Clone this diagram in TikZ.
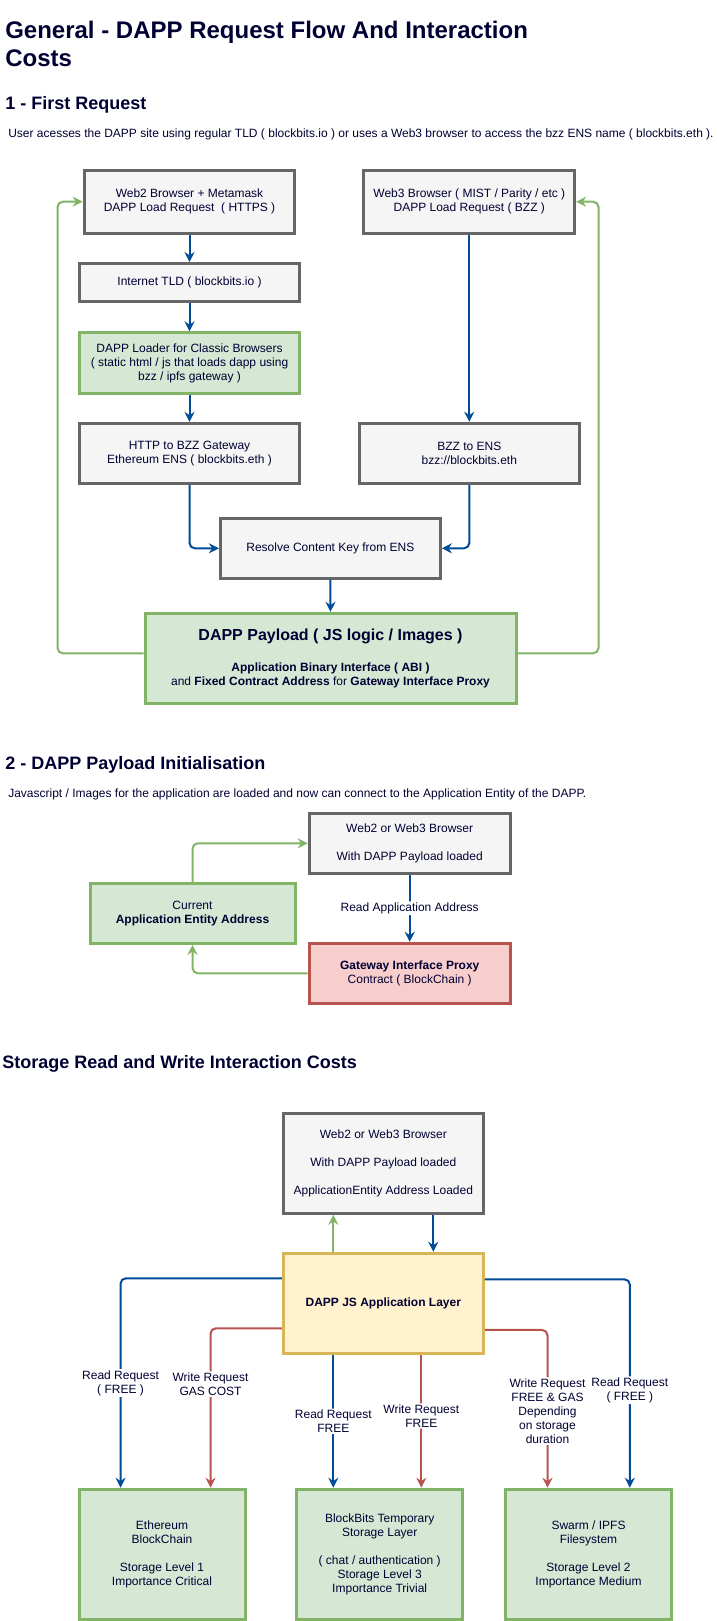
\documentclass[tikz,border=0pt]{standalone}
\usepackage{fontspec}
\setmainfont{Liberation Sans}
\usetikzlibrary{arrows.meta}

\definecolor{txtnavy}{HTML}{000033}
\definecolor{grayfill}{HTML}{F5F5F5}
\definecolor{graydraw}{HTML}{666666}
\definecolor{greenfill}{HTML}{D5E8D4}
\definecolor{greendraw}{HTML}{82B366}
\definecolor{redfill}{HTML}{F8CECC}
\definecolor{reddraw}{HTML}{B85450}
\definecolor{yellowfill}{HTML}{FFF2CC}
\definecolor{yellowdraw}{HTML}{D6B656}
\definecolor{bluearrow}{HTML}{004C99}

\tikzset{
  box/.style={draw, line width=2.25pt, align=center, text=txtnavy, inner sep=0pt, font=\fontsize{9}{10.5}\selectfont},
  graybox/.style={box, fill=grayfill, draw=graydraw},
  greenbox/.style={box, fill=greenfill, draw=greendraw},
  redbox/.style={box, fill=redfill, draw=reddraw},
  yellowbox/.style={box, fill=yellowfill, draw=yellowdraw},
  conn/.style={line width=1.5pt, rounded corners=4pt, -{Stealth[length=7.5pt,width=7.5pt,inset=2.5pt]}},
  bluearr/.style={conn, draw=bluearrow},
  greenarr/.style={conn, draw=greendraw},
  redarr/.style={conn, draw=reddraw},
  lbl/.style={fill=white, text=txtnavy, align=center, inner sep=1pt, font=\fontsize{9}{10.5}\selectfont},
  heading/.style={anchor=west, text=txtnavy, inner sep=0pt, font=\bfseries\fontsize{13.5}{16}\selectfont},
  desc/.style={anchor=west, text=txtnavy, inner sep=0pt, font=\fontsize{9}{10.5}\selectfont},
}

\begin{document}
\begin{tikzpicture}[x=0.75pt,y=0.75pt,yscale=-1,xscale=1]
\useasboundingbox (0,0) rectangle (717,1621);
\fill[white] (0,0) rectangle (717,1621);

% Text Node
\node[anchor=west, align=left, text=txtnavy, inner sep=0pt, font=\bfseries\fontsize{18}{21}\selectfont] (title) at (5,44) {General - DAPP Request Flow And Interaction\\Costs};

%%%%% 1 - First Request
% Text Node
\node[heading] (head1) at (5,104.5) {1 - First Request};
% Text Node
\node[desc] (desc1) at (8,134.5) {User acesses the DAPP site using regular TLD ( blockbits.io ) or uses a Web3 browser to access the bzz ENS name ( blockbits.eth ).};

%Shape: Rectangle
\node[graybox, minimum width=158pt, minimum height=47pt] (web2) at (189.5,201.7) {Web2 Browser + Metamask\\DAPP Load Request~ ( HTTPS )};
%Shape: Rectangle
\node[graybox, minimum width=158pt, minimum height=47pt] (web3) at (469.3,201.7) {Web3 Browser ( MIST / Parity / etc )\\DAPP Load Request ( BZZ )};
%Shape: Rectangle
\node[graybox, minimum width=165pt, minimum height=28.5pt] (tld) at (189.5,282.5) {Internet TLD ( blockbits.io )};
%Shape: Rectangle
\node[greenbox, minimum width=165pt, minimum height=45.75pt] (loader) at (189.5,363.3) {DAPP Loader for Classic Browsers\\( static html / js that loads dapp using\\bzz / ipfs gateway )};
%Shape: Rectangle
\node[graybox, minimum width=165pt, minimum height=45pt] (http) at (189.5,453.3) {HTTP to BZZ Gateway\\Ethereum ENS ( blockbits.eth )};
%Shape: Rectangle
\node[graybox, minimum width=165pt, minimum height=45pt] (bzz) at (469.3,453.3) {BZZ to ENS\\bzz://blockbits.eth};
%Shape: Rectangle
\node[graybox, minimum width=165pt, minimum height=45pt] (resolve) at (330.4,548.3) {Resolve Content Key from ENS};
%Shape: Rectangle
\node[greenbox, minimum width=278.25pt, minimum height=67.5pt] (payload) at (330.5,658.3) {{\fontsize{12}{14}\selectfont\bfseries DAPP Payload ( JS logic / Images )}\\[12.3pt]\textbf{Application Binary Interface ( ABI )}\\and \textbf{Fixed Contract Address} for \textbf{Gateway Interface Proxy}};

%Straight Lines
\draw[bluearr] (web2) -- (tld);
\draw[bluearr] (tld) -- (loader);
\draw[bluearr] (loader) -- (http);
\draw[bluearr] (web3) -- (bzz);
\draw[bluearr] (http.south) |- (resolve.west);
\draw[bluearr] (bzz.south) |- (resolve.east);
\draw[bluearr] (resolve) -- (payload);
\draw[greenarr] ([yshift=-3.75pt]payload.west) -- ++(-86,0) |- (web2.west);
\draw[greenarr] ([yshift=-3.75pt]payload.east) -- ++(81,0) |- (web3.east);

%%%%% 2 - DAPP Payload Initialisation
% Text Node
\node[heading] (head2) at (5,765) {2 - DAPP Payload Initialisation};
% Text Node
\node[desc] (desc2) at (8,794) {Javascript / Images for the application are loaded and now can connect to the Application Entity of the DAPP.};

%Shape: Rectangle
\node[graybox, minimum width=150.75pt, minimum height=45pt] (browser2) at (409.7,843.3) {Web2 or Web3 Browser\\[10.5pt]With DAPP Payload loaded};
%Shape: Rectangle
\node[greenbox, minimum width=153.75pt, minimum height=45pt] (current) at (192.5,913.3) {Current\\\textbf{Application Entity Address}};
%Shape: Rectangle
\node[redbox, minimum width=150.75pt, minimum height=45pt] (gateway) at (409.7,973.3) {\textbf{Gateway Interface Proxy}\\Contract ( BlockChain )};

%Straight Lines
\draw[bluearr] (browser2) -- node[lbl] (readaddr) {Read Application Address} (gateway);
\draw[greenarr] (current.north) |- (browser2.west);
\draw[greenarr] (gateway.west) -| (current.south);

%%%%% Storage Read and Write Interaction Costs
% Text Node
\node[heading] (head3) at (2,1064.3) {Storage Read and Write Interaction Costs};

%Shape: Rectangle
\node[graybox, minimum width=150pt, minimum height=75pt] (browser3) at (383.3,1163.3) {Web2 or Web3 Browser\\[10.5pt]With DAPP Payload loaded\\[10.5pt]ApplicationEntity Address Loaded};
%Shape: Rectangle
\node[yellowbox, minimum width=150pt, minimum height=75pt] (applayer) at (383.3,1303.3) {\textbf{DAPP JS Application Layer}};
%Shape: Rectangle
\node[greenbox, minimum width=124.5pt, minimum height=97.5pt] (eth) at (162,1554.2) {Ethereum\\BlockChain\\[10.5pt]Storage Level 1\\Importance Critical};
%Shape: Rectangle
\node[greenbox, minimum width=124.5pt, minimum height=97.5pt] (bb) at (379.7,1554.2) {BlockBits Temporary\\Storage Layer\\[10.5pt]( chat / authentication )\\Storage Level 3\\Importance Trivial};
%Shape: Rectangle
\node[greenbox, minimum width=124.5pt, minimum height=97.5pt] (swarm) at (588.5,1554.2) {Swarm / IPFS\\Filesystem\\[10.5pt]Storage Level 2\\Importance Medium};

%Straight Lines
\draw[greenarr] ([xshift=-37.5pt]applayer.north) -- ([xshift=-37.5pt]browser3.south);
\draw[bluearr] ([xshift=37.5pt]browser3.south) -- ([xshift=37.5pt]applayer.north);
\draw[bluearr] ([yshift=-18.75pt]applayer.west) -| node[lbl, pos=0.75] (ethread) {Read Request\\( FREE )} ([xshift=-31.1pt]eth.north);
\draw[redarr] ([yshift=18.75pt]applayer.west) -| node[lbl, pos=0.675] (ethwrite) {Write Request\\GAS COST} ([xshift=36.4pt]eth.north);
\draw[bluearr] ([xshift=-37.5pt]applayer.south) -- node[lbl, pos=0.5] (bbread) {Read Request\\FREE} ([xshift=-37.5pt]applayer.south |- bb.north);
\draw[redarr] ([xshift=28.5pt]applayer.south) -- node[lbl, pos=0.46] (bbwrite) {Write Request\\FREE} ([xshift=28.5pt]applayer.south |- bb.north);
\draw[redarr] ([yshift=20pt]applayer.east) -| node[lbl, pos=0.757] (swarmwrite) {Write Request\\FREE \& GAS\\Depending\\on storage\\duration} ([xshift=-30.75pt]swarm.north);
\draw[bluearr] ([yshift=-18pt]applayer.east) -| node[lbl, pos=0.766] (swarmread) {Read Request\\( FREE )} ([xshift=31pt]swarm.north);
\end{tikzpicture}
\end{document}
